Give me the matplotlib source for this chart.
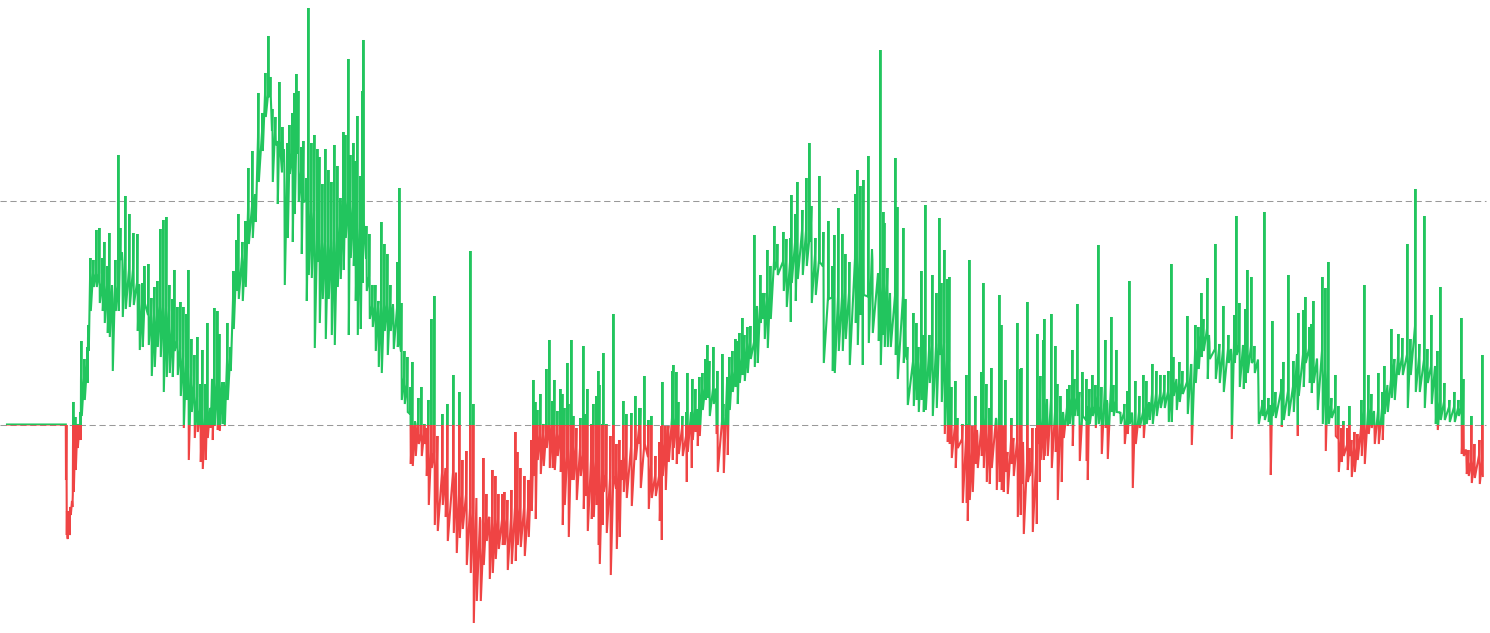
import matplotlib
matplotlib.use('Agg')
import matplotlib.pyplot as plt
import numpy as np
from matplotlib.patches import Rectangle

# (day, high, low)
flat = [(7,.5,.5),(20,.5,.5),(35,.5,.5),(50,.5,.5),(65,.5,.5)]
part1 = [(66,0,-110),(67,-112,-114),(69,-110,-108),(70,-82,-90),(72,-82,-70),(73,23,-67),(75,8,-45),(77,1,-23),(79,1,-15),(80,13,-15),
(81,84,9),(84,66,25),(87,78,42),(88,100,74),(90,167,114),(93,165,138),(96,195,138),(99,197,122),(102,167,114),(104,183,102),
(107,159,92),(109,192,88),(112,126,54),(115,165,114),(118,270,114),(120,197,165),(122,165,108),(125,229,116),(129,211,118),(133,192,120),
(137,191,94),(139,140,75),(142,142,78),(144,159,122),(148,161,80),(151,127,49),(154,138,58),(157,144,78),(160,196,68),(163,205,33),
(166,208,48),(169,140,52),(172,126,48),(174,155,74),(177,118,50),(180,123,29),(183,118,-3),(186,111,25),(188,155,-35),(191,86,13),
(194,70,-13),(197,88,-7),(200,41,-37),(202,75,-44),(205,41,-35),(207,102,-13),(210,17,-3),(212,46,-15),(214,117,-1),(217,114,-5),
(219,91,-6),(222,38,1),(224,21,-1),(227,102,25),(230,78,54),(233,154,96),(236,185,134),(238,211,126),(242,183,124),(245,204,138),
(248,257,181),(252,274,187),(255,225,203),(258,332,243),(262,312,274),(265,352,308),(268,389,328),(270,348,328),(272,316,243),(275,308,280),
(277,284,221),(279,343,284),(282,298,264),(284,255,140),(287,282,187),(289,300,251),(292,312,183),(294,332,211),(296,351,284),(298,334,223),
(301,278,171),(303,284,223),(306,247,124),(308,417,150),(311,282,147),(314,290,77),(317,276,163),(319,268,102),(322,241,126),(325,276,86),
(328,255,126),(331,243,90),(334,280,80),(337,259,138),(340,227,146),(343,293,155),(345,290,187),(348,366,90),(350,270,167),(353,282,159),
(355,264,124),(357,309,90),(360,249,96),(362,334,142),(363,385,203),(366,199,134),(369,191,106),(372,140,98),(375,140,74),(378,124,58),
(381,203,52),(384,181,94),(387,171,70),(390,140,94),(393,110,76),(397,163,78),(399,237,82),(401,122,25),(404,74,21),(407,68,13),
(410,38,-39),(412,63,-41),(415,1,-31),(418,27,-19),(421,38,-31),(424,1,-19),(426,-3,-51),(428,25,-80),(431,106,-43),(434,129,-100),
(437,-11,-106),(442,11,-80),(445,-43,-92),(447,21,-116),(453,50,-108),(456,-88,-128),(459,33,-113),(462,-35,-104),(466,-26,-140),(470,174,-148),
(473,21,-198),(476,-73,-176),(480,-96,-176),(483,-33,-140),(486,-69,-116),(489,-92,-154),(492,-45,-148),(495,-51,-134),(498,-69,-124)]
part2 = [(502,-69,-120),(504,-67,-120),(507,-75,-145),(511,-65,-139),(515,-7,-136),(517,-27,-120),(520,-43,-122),(524,-51,-131),(528,-55,-112),(531,-15,-86),
(533,45,-51),(535,23,-94),(537,15,-35),(540,31,-49),(543,1,-41),(546,56,-23),(549,85,-43),(552,24,-43),(554,45,-45),(557,14,-31),
(560,36,-47),(562,31,-100),(564,17,-80),(567,62,-43),(568,21,-112),(571,85,-55),(573,9,-55),(576,-3,-75),(580,7,-51),(583,79,-84),
(585,11,-71),(587,36,-106),(591,1,-94),(593,21,-92),(596,29,-80),(598,54,-120),(599,40,-139),(602,1,-100),(603,72,-67),(606,1,-108),
(610,-11,-150),(613,111,-51),(616,-19,-124),(619,-15,-112),(621,-35,-55),(623,24,-67),(626,11,-73),(631,12,-81),(635,29,-35),(639,17,-19),
(640,17,-63),(644,49,-19),(648,5,-84),(651,9,-73),(655,-31,-71),(659,-17,-96),(661,-1,-115),(662,43,-51),(665,-1,-65),(668,-1,-37),
(672,54,-35),(673,60,-23),(676,53,-39),(678,23,-29),(682,9,-31),(686,13,-57),(687,52,-27),(691,5,-43),(692,46,-15),(695,36,-7),
(697,9,-21),(699,48,-11),(702,52,15),(705,66,25),(707,80,27),(709,64,9),(713,78,21),(716,9,-9),(717,54,-47),(722,71,13),
(723,21,-48),(727,48,-30),(729,68,15),(732,74,33),(735,86,38),(737,84,21),(739,92,42),(742,107,50),(744,90,44),(747,98,52),
(750,99,66),(754,190,58),(757,104,62),(760,150,102),(762,132,106),(764,132,86),(767,175,77),(770,159,106),(774,199,155),(777,181,150),
(783,193,134),(786,186,118),(790,187,103),(791,230,142),(795,211,124),(797,243,146),(802,215,150),(806,247,159),(809,282,183),(811,219,122),
(815,187,130),(819,249,163),(823,193,62),(828,204,126),(832,159,54),(834,190,52),(838,217,74),(842,191,74),(845,171,86),(849,163,60),
(855,231,102),(857,255,80),(860,239,110),(862,195,60),(863,245,130),(868,269,82),(872,165,92),(878,134,84),(880,375,60),(883,213,90),
(884,202,78),(887,157,78),(890,110,78),(895,267,70),(897,218,46),(903,197,62),(905,126,70),(907,78,20),(913,112,19),(916,102,25),
(918,78,13),(921,154,25),(923,90,13),(925,220,15),(929,90,42),(932,150,9),(936,132,17),(939,207,70),(941,142,23),(944,175,-9),
(947,146,-17),(949,148,-19),(951,38,-33),(955,44,-43),(957,7,-23),(962,1,-78),(966,50,-78),(967,1,-96),(969,165,-75),(972,-1,-67),
(975,29,-39),(977,-11,-43),(981,53,-31),(983,142,-43),(986,41,-57),(989,17,-59),(991,57,-43),(996,5,-65),(999,130,-57)]
part3 = [(1001,100,-65),(1003,-19,-67),(1005,45,-47),(1007,-27,-69),(1011,7,-39),(1013,-13,-51),(1017,102,-92),(1020,56,-90),(1021,57,-59),(1023,-39,-109),
(1027,123,-57),(1029,-23,-51),(1032,-3,-107),(1036,-3,-99),(1037,91,-19),(1039,-3,-57),(1040,49,-35),(1043,85,-35),(1044,106,-31),(1047,5,-31),
(1051,111,-43),(1055,79,-27),(1057,41,-75),(1060,29,-3),(1061,-3,-57),(1063,10,-13),(1067,36,-1),(1069,40,1),(1072,75,-21),(1074,46,9),
(1077,121,9),(1079,33,-36),(1082,53,9),(1086,46,-36),(1087,9,-55),(1089,36,1),(1092,50,9),(1095,40,-3),(1098,180,1),(1101,38,-29),
(1105,85,-3),(1107,21,-34),(1111,108,13),(1113,40,9),(1116,75,13),(1120,13,1),(1124,21,-19),(1127,34,-9),(1129,144,1),(1132,1,-63),
(1135,44,-19),(1139,29,-3),(1143,50,-13),(1146,44,1),(1149,17,5),(1152,61,1),(1156,54,9),(1160,50,17),(1164,50,17),(1168,54,3),
(1171,161,3),(1173,68,29),(1176,46,15),(1179,63,23),(1182,54,31),(1187,109,11),(1191,60,-20),(1195,100,42),(1198,98,56),(1201,132,68),
(1203,106,74),(1207,147,46),(1209,83,66),(1215,181,46),(1219,81,42),(1223,119,33),(1228,90,62),(1231,70,-14),(1234,110,62),(1236,209,70),
(1239,122,38),(1243,70,36),(1245,116,42),(1247,155,52),(1251,148,62),(1254,79,52),(1258,38,1),(1262,25,9),(1264,213,5),(1268,27,3),
(1270,-3,-50),(1272,104,9),(1275,33,7),(1281,46,-2),(1283,63,5),(1288,150,9),(1293,64,13),(1297,42,-11),(1298,112,29),(1303,115,38),
(1305,128,62),(1309,98,42),(1311,101,32),(1313,124,42),(1317,52,15),(1322,148,1),(1325,137,-26),(1328,163,1),(1331,27,7),(1335,50,-11),
(1338,19,-47),(1341,-3,-37),(1343,4,-31),(1347,-3,-45),(1349,19,-31),(1351,-15,-52),(1354,-7,-47),(1357,-9,-35),(1361,25,-31),(1364,140,-39),
(1368,50,-9),(1371,31,-3),(1374,1,-19),(1378,52,-19),(1382,33,-15),(1384,59,11),(1387,40,13),(1391,96,27),(1394,66,25),(1398,91,50),
(1402,87,50),(1407,181,17),(1410,86,50),(1415,236,33),(1419,81,33),(1424,209,17),(1427,76,42),(1431,110,21),(1435,38,1),(1437,74,-5),
(1440,138,5),(1444,42,5),(1449,25,3),(1454,33,3),(1458,25,9),(1461,107,-29),(1463,46,-31),(1466,-31,-49),(1468,-25,-51),(1471,9,-58),
(1474,-19,-53),(1479,-15,-59),(1482,70,-51)]
upper_level = 224
zero_level = 0

data = np.array(flat + part1 + part2 + part3, dtype=float)
days, high, low = data[:,0], data[:,1], data[:,2]

# go through the middle of the band between columns, so spikes stay thin
mid = (high + low) / 2
center = np.array([np.median(mid[max(i-2,0):i+3]) for i in range(len(mid))])
x = np.column_stack([days, days+0.4, days+0.8]).ravel()
y = np.column_stack([center, high, low]).ravel()

fig = plt.figure(figsize=(14.9,6.33), dpi=100)
ax = fig.add_axes([0,0,1,1])
ax.axis('off')
ax.set_xlim(0,1490)
ax.set_ylim(-208,425)

for level in [upper_level, zero_level]:
    ax.plot([0,1486], [level,level], color='#999999', lw=0.75, dashes=(6,3.5), zorder=1)

# same line twice, cut at zero
green, = ax.plot(x, y, color='#22c55e', lw=1.5, solid_joinstyle='miter', zorder=2)
red, = ax.plot(x, y, color='#ef4444', lw=1.5, solid_joinstyle='miter', zorder=2)
green.set_clip_path(Rectangle((0,zero_level), 1490, 425, transform=ax.transData))
red.set_clip_path(Rectangle((0,-208), 1490, 208, transform=ax.transData))

plt.savefig('out.png', dpi=100, facecolor='white')
